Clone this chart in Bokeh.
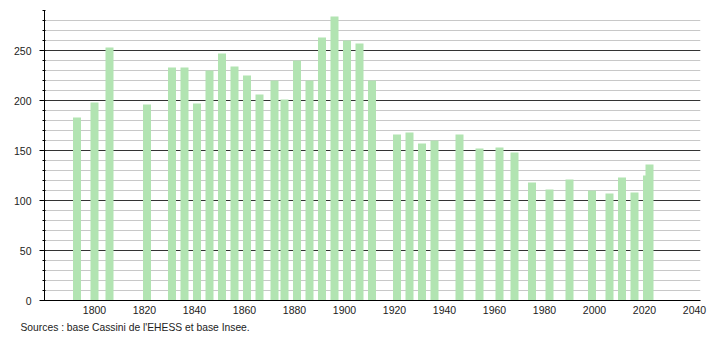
from bokeh.plotting import figure
from bokeh.models import Range1d, SingleIntervalTicker, FixedTicker, Title, ColumnDataSource
from bokeh.embed import file_html
from bokeh.resources import INLINE

years = [1793, 1800, 1806, 1821, 1831, 1836, 1841, 1846, 1851, 1856, 1861, 1866,
         1872, 1876, 1881, 1886, 1891, 1896, 1901, 1906, 1911, 1921, 1926, 1931,
         1936, 1946, 1954, 1962, 1968, 1975, 1982, 1990, 1999, 2006, 2011, 2016,
         2021, 2022]
population = [183, 198, 253, 196, 233, 233, 197, 230, 247, 234, 225, 206,
              220, 201, 240, 220, 263, 284, 260, 257, 220, 166, 168, 157,
              160, 166, 152, 153, 148, 118, 111, 121, 110, 107, 123, 108,
              125, 136]
x_ticks = [1800, 1820, 1840, 1860, 1880, 1900, 1920, 1940, 1960, 1980, 2000, 2020, 2040]
source_text = "Sources : base Cassini de l'EHESS et base Insee."

FONT = "Liberation Sans"

p = figure(frame_width=656, frame_height=290, output_backend="svg", toolbar_location=None,
           x_range=Range1d(1780, 2042.4), y_range=Range1d(0, 290),
           min_border_left=44, min_border_right=10, min_border_top=10,
           min_border_bottom=0)
p.outline_line_color = None
p.background_fill_color = "white"

src = ColumnDataSource(dict(x=years, top=population))
p.vbar(x="x", top="top", width=3.2, bottom=0, source=src,
       fill_color="#b2e4b2", line_color=None)

# y axis
p.yaxis.ticker = SingleIntervalTicker(interval=50, num_minor_ticks=5)
p.yaxis.axis_line_color = "black"
p.yaxis.major_tick_out = 5
p.yaxis.major_tick_in = 0
p.yaxis.minor_tick_out = 2
p.yaxis.minor_tick_in = 1
p.yaxis.major_tick_line_color = "black"
p.yaxis.minor_tick_line_color = "black"
p.yaxis.major_label_standoff = 8
p.yaxis.major_label_text_font = FONT
p.yaxis.major_label_text_font_size = "10.5px"
p.yaxis.major_label_text_color = "#222222"

# x axis
p.xaxis.ticker = FixedTicker(ticks=x_ticks)
p.xaxis.axis_line_color = "black"
p.xaxis.major_tick_line_color = None
p.xaxis.minor_tick_line_color = None
p.xaxis.major_tick_out = 0
p.xaxis.major_tick_in = 0
p.xaxis.minor_tick_out = 0
p.xaxis.minor_tick_in = 0
p.xaxis.major_label_standoff = 5
p.xaxis.major_label_text_font = FONT
p.xaxis.major_label_text_font_size = "10.5px"
p.xaxis.major_label_text_color = "#222222"

# grid
p.xgrid.grid_line_color = None
p.ygrid.grid_line_color = "#333333"
p.ygrid.grid_line_width = 1
p.ygrid.minor_grid_line_color = "#c8c8c8"
p.ygrid.minor_grid_line_width = 1
p.ygrid.level = "underlay"

note = Title(text=source_text, align="left", offset=-24, standoff=6,
             text_font=FONT, text_font_size="10.3px", text_font_style="normal",
             text_color="#222222")
p.add_layout(note, "below")

open("out.html", "w").write(file_html(p, INLINE))
